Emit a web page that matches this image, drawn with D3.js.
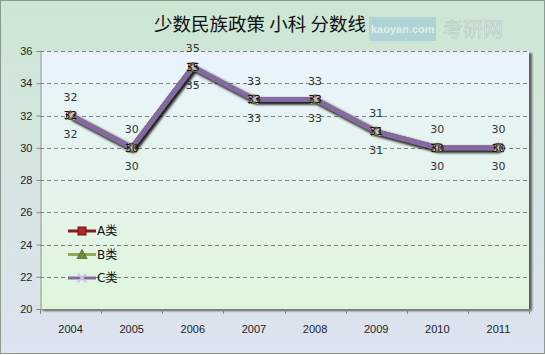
<!DOCTYPE html>
<html>
<head>
<meta charset="utf-8">
<script src="https://cdn.jsdelivr.net/npm/d3@7"></script>
<style>
  html, body { margin: 0; padding: 0; background: #fff; }
  svg { display: block; font-family: "DejaVu Sans", "Noto Sans CJK SC", sans-serif; }
</style>
</head>
<body>
<div id="chart"></div>
<script>
const years   = ['2004', '2005', '2006', '2007', '2008', '2009', '2010', '2011'];
const seriesA = [32, 30, 35, 33, 33, 31, 30, 30];
const seriesB = [32, 30, 35, 33, 33, 31, 30, 30];
const seriesC = [32, 30, 35, 33, 33, 31, 30, 30];
const yTicks  = [20, 22, 24, 26, 28, 30, 32, 34, 36];
const seriesNames = ['A类', 'B类', 'C类'];

const width = 545, height = 355;
const margin = { top: 51, right: 16, bottom: 46, left: 40 };

const svg = d3.select('#chart').append('svg')
  .attr('width', width)
  .attr('height', height);

const defs = svg.append('defs');

const bg = defs.append('linearGradient').attr('id', 'bg').attr('x1', 0).attr('y1', 0).attr('x2', 0).attr('y2', 1);
bg.append('stop').attr('offset', '0%').attr('stop-color', '#cde7d3');
bg.append('stop').attr('offset', '100%').attr('stop-color', '#dde3f0');

const plotBg = defs.append('linearGradient').attr('id', 'plotbg').attr('x1', 0).attr('y1', 0).attr('x2', 0).attr('y2', 1);
plotBg.append('stop').attr('offset', '0%').attr('stop-color', '#eaf3fd');
plotBg.append('stop').attr('offset', '100%').attr('stop-color', '#dff6db');

const shadow = defs.append('filter').attr('id', 'shadow')
  .attr('x', '-10%').attr('y', '-10%').attr('width', '130%').attr('height', '130%');
shadow.append('feDropShadow').attr('dx', 2).attr('dy', 2).attr('stdDeviation', 1.5)
  .attr('flood-color', '#000').attr('flood-opacity', 0.55);

const boxShadow = defs.append('filter').attr('id', 'boxshadow')
  .attr('x', '-5%').attr('y', '-5%').attr('width', '110%').attr('height', '110%');
boxShadow.append('feDropShadow').attr('dx', 3).attr('dy', 2).attr('stdDeviation', 1)
  .attr('flood-color', '#444').attr('flood-opacity', 0.85);

// chart background + frame
svg.append('rect')
  .attr('x', 0.5).attr('y', 0.5)
  .attr('width', width - 1).attr('height', height - 2)
  .attr('fill', 'url(#bg)')
  .attr('stroke', '#8a9a8e');

// watermark (kept to the right of the title)
const wm = svg.append('g').attr('opacity', 0.6);
wm.append('rect').attr('x', 369).attr('y', 17).attr('width', 67).attr('height', 24).attr('fill', '#9cc8d5');
wm.append('text').attr('x', 371).attr('y', 33).attr('font-size', 11).attr('font-weight', 'bold')
  .attr('font-family', '"Liberation Sans", sans-serif')
  .attr('fill', '#eef4f6').text('kaoyan.com');
wm.append('text').attr('x', 443).attr('y', 37).attr('font-size', 20)
  .attr('font-family', '"Noto Sans CJK SC", sans-serif')
  .attr('fill', '#e4ecec').attr('stroke', '#aebdbf').attr('stroke-width', 0.8).text('考研网');

// title
svg.append('text')
  .attr('x', 260).attr('y', 31)
  .attr('text-anchor', 'middle')
  .attr('font-family', '"Noto Sans CJK SC", sans-serif')
  .attr('font-size', 18.5)
  .attr('fill', '#111')
  .text('少数民族政策 小科 分数线');

const x = d3.scaleBand()
  .domain(years)
  .range([margin.left, width - margin.right]);

const y = d3.scaleLinear()
  .domain([20, 36])
  .range([height - margin.bottom, margin.top]);

// plot area
svg.append('rect')
  .attr('x', margin.left).attr('y', margin.top)
  .attr('width', width - margin.left - margin.right)
  .attr('height', height - margin.top - margin.bottom)
  .attr('fill', 'url(#plotbg)')
  .attr('filter', 'url(#boxshadow)');

// grid
svg.append('g')
  .selectAll('line')
  .data(yTicks.filter(d => d > 20))
  .join('line')
  .attr('x1', margin.left).attr('x2', width - margin.right)
  .attr('y1', d => Math.round(y(d)) + 0.5).attr('y2', d => Math.round(y(d)) + 0.5)
  .attr('stroke', '#808080')
  .attr('stroke-dasharray', '4,3');

// axes
const yAxis = svg.append('g')
  .attr('transform', `translate(${margin.left + 0.5},0)`)
  .call(d3.axisLeft(y).tickValues(yTicks).tickSize(4).tickPadding(4));
yAxis.select('.domain').attr('stroke', '#888');
yAxis.selectAll('.tick line').attr('stroke', '#888');
yAxis.selectAll('text').attr('font-size', 11).attr('fill', '#222');

const xAxis = svg.append('g')
  .attr('transform', `translate(0,${height - margin.bottom + 0.5})`)
  .call(d3.axisBottom(x).tickSize(0).tickPadding(16));
xAxis.select('.domain').attr('stroke', '#888');
xAxis.selectAll('text').attr('font-size', 11).attr('fill', '#222');
svg.append('g')
  .selectAll('line')
  .data(d3.range(years.length + 1))
  .join('line')
  .attr('x1', i => Math.round(margin.left + i * x.bandwidth()) + 0.5)
  .attr('x2', i => Math.round(margin.left + i * x.bandwidth()) + 0.5)
  .attr('y1', height - margin.bottom)
  .attr('y2', height - margin.bottom + 5)
  .attr('stroke', '#888');

const cx = d => x(d) + x.bandwidth() / 2;

const series = [
  { name: seriesNames[0], values: seriesA, color: '#8b1a1a', marker: 'square', labelDy: -18.5 },
  { name: seriesNames[1], values: seriesB, color: '#8eab5c', marker: 'triangle', labelDy: 0 },
  { name: seriesNames[2], values: seriesC, color: '#8569a3', marker: 'cross', labelDy: 18.5 }
];

const line = d3.line().x((d, i) => cx(years[i])).y(d => y(d));

function drawMarker(g, type, px, py) {
  if (type === 'square') {
    g.append('rect').attr('x', px - 4).attr('y', py - 4).attr('width', 8).attr('height', 8)
      .attr('fill', '#b0262a').attr('stroke', '#6e1414').attr('stroke-width', 1);
  } else if (type === 'triangle') {
    g.append('path').attr('d', `M${px},${py - 5}L${px + 5},${py + 4}L${px - 5},${py + 4}Z`)
      .attr('fill', '#6f8a3e').attr('stroke', '#4f6a2a').attr('stroke-width', 0.8);
  } else {
    g.append('path').attr('d', `M${px - 4},${py - 4}L${px + 4},${py + 4}M${px + 4},${py - 4}L${px - 4},${py + 4}`)
      .attr('stroke', '#c8bfe0').attr('stroke-width', 2);
  }
}

const marks = svg.append('g');
series.forEach(s => {
  marks.append('path')
    .datum(s.values)
    .attr('d', line)
    .attr('fill', 'none')
    .attr('stroke', s.color)
    .attr('stroke-width', 5)
    .attr('stroke-linejoin', 'round')
    .attr('filter', 'url(#shadow)');
});
series.forEach(s => {
  const mg = marks.append('g');
  s.values.forEach((v, i) => drawMarker(mg, s.marker, cx(years[i]), y(v)));
});

// data labels
series.forEach(s => {
  svg.append('g')
    .selectAll('text')
    .data(s.values)
    .join('text')
    .attr('x', (d, i) => cx(years[i]))
    .attr('y', d => y(d) + s.labelDy)
    .attr('dy', '0.35em')
    .attr('text-anchor', 'middle')
    .attr('font-size', 11)
    .attr('fill', s.labelDy === 0 ? '#111' : '#333')
    .text(d => d);
});

// legend
const legend = svg.append('g');
series.forEach((s, i) => {
  const ly = 231 + i * 23.5;
  const lg = legend.append('g');
  lg.append('line').attr('x1', 68).attr('x2', 96).attr('y1', ly).attr('y2', ly)
    .attr('stroke', s.color).attr('stroke-width', 3);
  drawMarker(lg, s.marker, 82, ly);
  legend.append('text')
    .attr('x', 97).attr('y', ly).attr('dy', '0.35em')
    .attr('font-size', 12)
    .attr('font-family', '"DejaVu Sans", "Noto Sans CJK SC", sans-serif')
    .attr('fill', '#111')
    .text(s.name);
});
</script>
</body>
</html>
